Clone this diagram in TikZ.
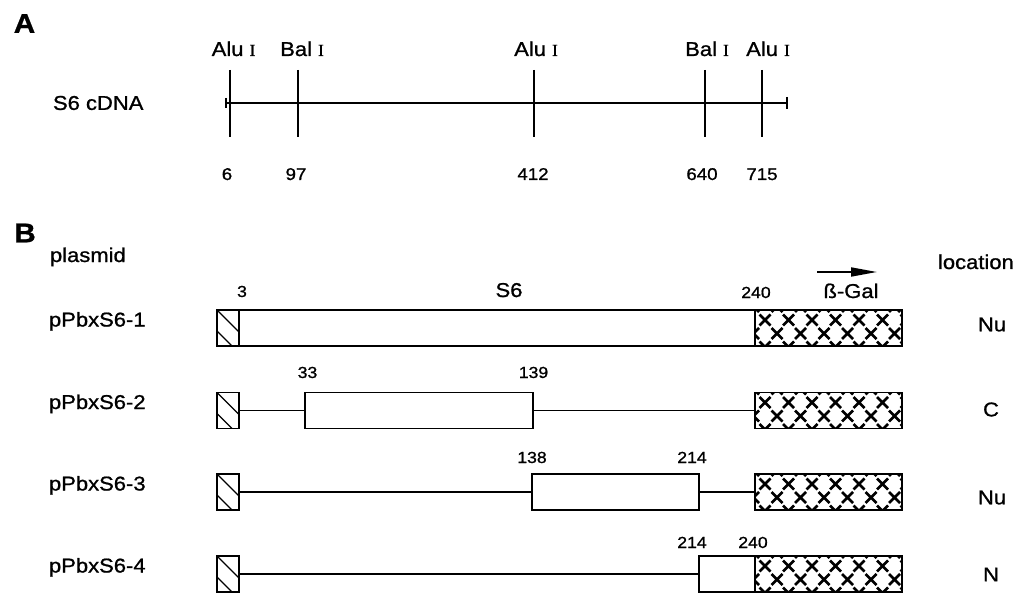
\documentclass[tikz,border=0pt]{standalone}
\usepackage{fontspec}
\setmainfont{Liberation Sans}[FakeStretch=1.1, FakeBold=1]
\newfontfamily\romanfont{Liberation Serif}[FakeBold=1]
\usetikzlibrary{arrows.meta, positioning}

\newcommand{\enzI}{{\romanfont\fontsize{17}{17}\selectfont I}}

\begin{document}
\begin{tikzpicture}[
    x=1pt, y=-1pt,
    every node/.style={inner sep=0pt, outer sep=0pt},
    lbl/.style={font=\fontsize{20}{22}\selectfont},
    num/.style={font=\fontsize{16}{18}\selectfont, anchor=base},
    numA/.style={font=\fontsize{17}{19}\selectfont, anchor=base},
    panel/.style={font=\fontsize{27}{29}\selectfont\bfseries},
    site/.style={line width=1.6pt},
    link/.style={line width=1.3pt},
    segbox/.style={draw, line width=1.5pt, minimum height=36pt, anchor=west},
    hatbox/.style={segbox, minimum width=22pt,
      path picture={
        \draw[line width=1.1pt] (path picture bounding box.north west) -- ++(22pt,-22pt);
        \draw[line width=1.1pt] (path picture bounding box.north west) ++(0pt,-21pt) -- ++(20pt,-20pt);
      }},
    galbox/.style={segbox, minimum width=147pt,
      path picture={
        \foreach \i in {-1,...,6}
          \foreach \j/\dx in {-3.5/12, 10/0, 23.5/12, 37/0} {
            \pgfmathsetmacro\cx{4.5+23.5*\i+\dx}
            \pgfmathsetmacro\cy{5.5-\j}
            \draw[line width=2.5pt] (path picture bounding box.north west)
              ++(\cx pt,\cy pt) -- ++(11pt,-11pt) ++(-11pt,0pt) -- ++(11pt,11pt);
          }
      }},
  ]
  \useasboundingbox (0,0) rectangle (1029,599);

  % panel A: restriction map
  \node[panel] (panA) at (24.5,23.5) {A};
  \node[lbl, anchor=west] (cdna) at (53,103) {S6 cDNA};
  \coordinate (cdnaL) at (226,103);
  \coordinate (cdnaR) at (787,103);
  \draw[site] (cdnaL) -- (cdnaR);
  \draw[site] (cdnaL) ++(0,-5) -- ++(0,10);
  \draw[site] (cdnaR) ++(0,-6) -- ++(0,12);

  \foreach \x/\lx/\enz/\nx/\pos [count=\k] in
    {230/233.5/Alu/227/6, 298/302/Bal/296/97, 534/536/Alu/533/412,
     705/707/Bal/702/640, 762/768/Alu/762/715} {
    \coordinate (st\k) at (\x,70);
    \coordinate (sb\k) at (\x,137);
    \draw[site] (st\k) -- (sb\k);
    \node[lbl, anchor=base] (enz\k) at (\lx,56) {\enz\ \enzI};
    \node[numA] (pos\k) at (\nx,180) {\pos};
  }

  % panel B: fusion plasmids
  \node[panel] (panB) at (25,233) {B};
  \node[lbl, anchor=base west] (plasmid) at (50,262) {plasmid};
  \node[lbl, anchor=base west] (location) at (938,269) {location};

  \foreach \y/\r/\loc in {328/1/Nu, 410.5/2/C, 492/3/Nu, 574/4/N} {
    \node[lbl, anchor=base west] (name\r) at (49,\y-1.5) {pPbxS6-\r};
    \node[hatbox] (hat\r) at (217,\y) {};
    \node[galbox] (gal\r) at (755,\y) {};
  }

  \node[segbox, minimum width=516pt] (seg1) at (239,328) {};
  \node[segbox, minimum width=228pt] (seg2) at (305,410.5) {};
  \node[segbox, minimum width=167pt] (seg3) at (532,492) {};
  \node[segbox, minimum width=56pt] (seg4) at (699,574) {};

  \draw[link] (hat2.east) -- (seg2.west);
  \draw[link] (seg2.east) -- (gal2.west);
  \draw[link] (hat3.east) -- (seg3.west);
  \draw[link] (seg3.east) -- (gal3.west);
  \draw[link] (hat4.east) -- (seg4.west);

  % end points
  \node[num] (n3) at (242,297) {3};
  \node[lbl, anchor=base] (s6) at (509,297) {S6};
  \node[num] (n240a) at (756,298) {240};
  \node[lbl, anchor=base] (bgal) at (851,298) {ß-Gal};
  \coordinate (arrL) at (817,272);
  \coordinate (arrR) at (877,272);
  \draw[line width=1.8pt, -{Triangle[length=26pt, width=9pt]}] (arrL) -- (arrR);
  \node[num] (n33) at (307.5,378) {33};
  \node[num] (n139) at (533.5,378) {139};
  \node[num] (n138) at (532,463) {138};
  \node[num] (n214a) at (692,463) {214};
  \node[num] (n214b) at (692,548) {214};
  \node[num] (n240b) at (753,548) {240};

  % location
  \node[lbl] (loc1) at (992,324.5) {Nu};
  \node[lbl] (loc2) at (991,409.5) {C};
  \node[lbl] (loc3) at (992,497.5) {Nu};
  \node[lbl] (loc4) at (991,574.5) {N};
\end{tikzpicture}
\end{document}
